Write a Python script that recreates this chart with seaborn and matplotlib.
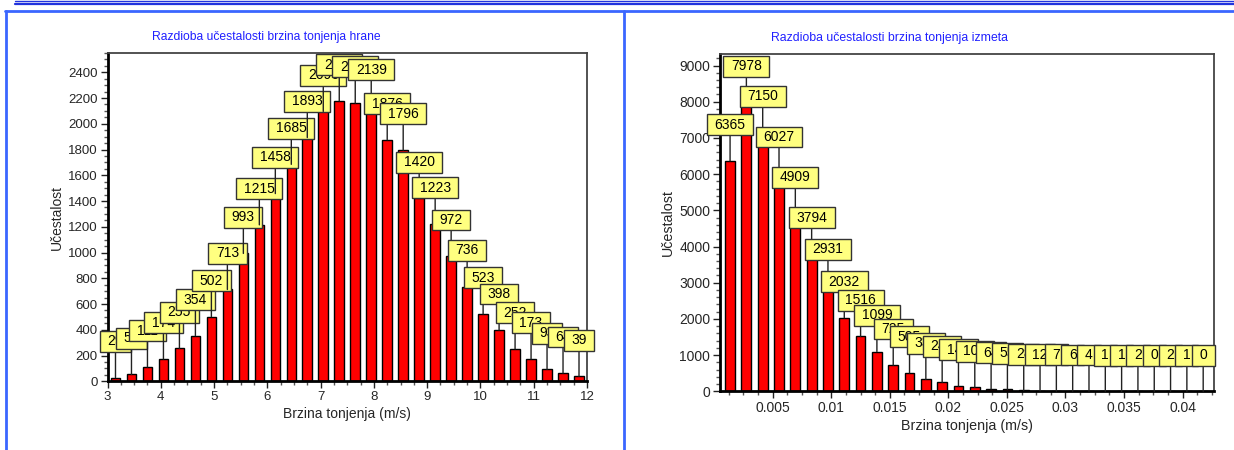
import numpy as np
import pandas as pd
import seaborn as sns
import matplotlib.pyplot as plt
from matplotlib.lines import Line2D
from matplotlib.ticker import MultipleLocator, FuncFormatter

# Bin centres and counts
hrana_x = [3.15, 3.45, 3.75, 4.05, 4.35, 4.65, 4.95, 5.25, 5.55, 5.85,
           6.15, 6.45, 6.75, 7.05, 7.35, 7.65, 7.95, 8.25, 8.55, 8.85,
           9.15, 9.45, 9.75, 10.05, 10.35, 10.65, 10.95, 11.25, 11.55, 11.85]
hrana_n = [29, 53, 111, 174, 255, 354, 502, 713, 993, 1215,
           1458, 1685, 1893, 2096, 2178, 2161, 2139, 1876, 1796, 1420,
           1223, 972, 736, 523, 398, 252, 173, 93, 64, 39]

izmet_x = [0.00136, 0.002753, 0.004146, 0.005539, 0.006932, 0.008325,
           0.009718, 0.011111, 0.012504, 0.013897, 0.01529, 0.016683,
           0.018076, 0.019469, 0.020862, 0.022255, 0.023648, 0.025041,
           0.026434, 0.027827, 0.02922, 0.030613, 0.032006, 0.033399,
           0.034792, 0.036185, 0.037578, 0.038971, 0.040364, 0.041757]
izmet_n = [6365, 7978, 7150, 6027, 4909, 3794, 2931, 2032, 1516, 1099,
           725, 505, 331, 248, 146, 106, 64, 55, 28, 12,
           7, 6, 4, 1, 1, 2, 0, 2, 1, 0]

title_hrana = "Razdioba učestalosti brzina tonjenja hrane"
title_izmet = "Razdioba učestalosti brzina tonjenja izmeta"
xlabel = "Brzina tonjenja (m/s)"
ylabel = "Učestalost"

sns.set_style("ticks")
plt.rcParams['font.family'] = ['Liberation Sans', 'DejaVu Sans']

W, H = 1234, 450
fig = plt.figure(figsize=(W / 100, H / 100), dpi=100)


def fx(x):
    return x / W


def fy(y):
    return 1 - y / H


# blue frame around the two panels
frame = dict(transform=fig.transFigure, color='#3a66ff', lw=2)
fig.add_artist(Line2D([fx(15), 1], [fy(1.2), fy(1.2)], transform=fig.transFigure, color='#2233dd', lw=1))
fig.add_artist(Line2D([fx(15), 1], [fy(4), fy(4)], transform=fig.transFigure, color='#2233dd', lw=1.6))
fig.add_artist(Line2D([fx(5), 1], [fy(10.8), fy(10.8)], **frame))
fig.add_artist(Line2D([fx(5.5), fx(5.5)], [fy(10.8), 0], **frame))
fig.add_artist(Line2D([fx(623.5), fx(623.5)], [fy(10.8), 0], **frame))

ax1 = fig.add_axes([fx(107.5), fy(381.3), 479.5 / W, 328.6 / H])
ax2 = fig.add_axes([fx(720), fy(391.3), 494 / W, 337.3 / H])


def draw(ax, xs, ns, xlim, ylim, xmaj, xmin, ymaj, ymin, tick_fs, lab_fs):
    df = pd.DataFrame({"x": xs, "n": ns})
    sns.barplot(df, x="x", y="n", native_scale=True, width=0.6, color="red",
                saturation=1, edgecolor="black", linewidth=1, errorbar=None, ax=ax)
    for x, v in zip(xs, ns):
        ax.annotate(f"{v}", xy=(x, v), xytext=(0, 26), textcoords="offset points",
                    ha="center", va="center", fontsize=10, color="black",
                    bbox=dict(boxstyle="square,pad=0.55", fc="#ffff80", ec="#333333",
                              lw=1, mutation_aspect=0.45),
                    arrowprops=dict(arrowstyle="-", color="#222222", lw=1,
                                    shrinkA=0, shrinkB=0),
                    annotation_clip=False)
    ax.set_xlim(*xlim)
    ax.set_ylim(*ylim)
    ax.xaxis.set_major_locator(MultipleLocator(xmaj))
    ax.xaxis.set_minor_locator(MultipleLocator(xmin))
    ax.yaxis.set_major_locator(MultipleLocator(ymaj))
    ax.yaxis.set_minor_locator(MultipleLocator(ymin))
    ax.xaxis.set_major_formatter(FuncFormatter(lambda v, p: f"{v:g}"))
    ax.yaxis.set_major_formatter(FuncFormatter(lambda v, p: f"{v:g}"))
    ax.tick_params(which="major", length=5, width=1, labelsize=tick_fs, color="#222222", pad=2)
    ax.tick_params(which="minor", length=3, width=1, color="#555555")
    ax.tick_params(top=False, right=False)
    for s in ["left", "bottom"]:
        ax.spines[s].set_linewidth(2)
        ax.spines[s].set_color("black")
    for s in ["top", "right"]:
        ax.spines[s].set_linewidth(1.3)
        ax.spines[s].set_color("#444444")
    ax.set_xlabel(xlabel, fontsize=lab_fs, labelpad=3)
    ax.set_ylabel(ylabel, fontsize=lab_fs, labelpad=3)


draw(ax1, hrana_x, hrana_n, (3, 12), (0, 2552), 1, 0.25, 200, 50, 9.5, 10)
draw(ax2, izmet_x, izmet_n, (0.0005, 0.04268), (0, 9318), 0.005, 0.00125, 1000, 200, 10, 10.3)

fig.text(fx(266), fy(37), title_hrana, color="#2020ff", fontsize=8.7, ha="center", va="center")
fig.text(fx(889), fy(37.5), title_izmet, color="#2020ff", fontsize=8.8, ha="center", va="center")

fig.savefig("out.png", dpi=100)
